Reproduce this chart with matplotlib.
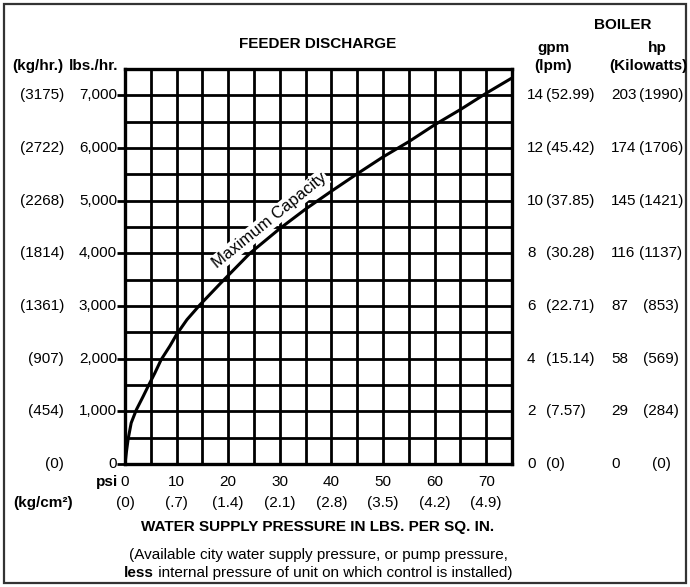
import matplotlib
matplotlib.use("Agg")
import matplotlib.pyplot as plt
import matplotlib.transforms as mtransforms
from matplotlib.patches import Rectangle
import numpy as np

plt.rcParams['font.family'] = ['Liberation Sans', 'DejaVu Sans']

# Maximum capacity curve (psi -> lbs./hr.)
psi = [0, 0.3, 0.6, 1.2, 2.2, 3.5, 4.5, 5.8, 7.0, 8.7, 10, 12, 14.5, 18.4, 24.2,
       30, 35, 40, 45, 50, 55, 60, 65, 70, 75]
lbs_hr = [0, 250, 470, 780, 1030, 1280, 1480, 1730, 1980, 2240, 2460, 2740, 3020,
          3420, 4000, 4470, 4840, 5180, 5510, 5830, 6120, 6440, 6730, 7040, 7330]

# left axis labels
lbs_ticks = [0, 1000, 2000, 3000, 4000, 5000, 6000, 7000]
lbs_labels = ['0', '1,000', '2,000', '3,000', '4,000', '5,000', '6,000', '7,000']
kg_hr_labels = ['(0)', '(454)', '(907)', '(1361)', '(1814)', '(2268)', '(2722)', '(3175)']

# right axis labels (boiler)
gpm_labels = ['0', '2', '4', '6', '8', '10', '12', '14']
lpm_labels = ['(0)', '(7.57)', '(15.14)', '(22.71)', '(30.28)', '(37.85)', '(45.42)', '(52.99)']
hp_labels = ['0', '29', '58', '87', '116', '145', '174', '203']
kw_labels = ['(0)', '(284)', '(569)', '(853)', '(1137)', '(1421)', '(1706)', '(1990)']

# bottom axis labels
psi_ticks = [0, 10, 20, 30, 40, 50, 60, 70]
kg_cm2_labels = ['(0)', '(.7)', '(1.4)', '(2.1)', '(2.8)', '(3.5)', '(4.2)', '(4.9)']

W, H = 690, 587
fig = plt.figure(figsize=(W / 100, H / 100), dpi=100)
ax = fig.add_axes([125 / W, 1 - 464 / H, 387 / W, 395 / H])

ax.set_xlim(0, 75)
ax.set_ylim(0, 7500)
ax.set_xticks(psi_ticks)
ax.set_xticks(np.arange(0, 76, 5), minor=True)
ax.set_yticks(lbs_ticks)
ax.set_yticks(np.arange(0, 7501, 500), minor=True)
ax.set_xticklabels([])
ax.set_yticklabels([])
ax.tick_params(axis='x', which='both', length=0)
ax.tick_params(axis='y', which='major', length=6, width=2, color='black')
ax.tick_params(axis='y', which='minor', length=0)
ax.grid(True, which='both', color='black', linewidth=2.0)
ax.set_axisbelow(True)
for s in ax.spines.values():
    s.set_linewidth(2.4)

ax.plot(psi, lbs_hr, color='black', linewidth=2.2, zorder=5)
ax.text(28.0, 4620, 'Maximum Capacity', rotation=39, ha='center', va='center',
        fontsize=12, zorder=4,
        bbox=dict(facecolor='white', edgecolor='none', pad=1.0))

fs = 11
trans_left = mtransforms.blended_transform_factory(fig.transFigure, ax.transData)
for y, lb, kg in zip(lbs_ticks, lbs_labels, kg_hr_labels):
    ax.text(117 / W, y, lb, transform=trans_left, ha='right', va='center', fontsize=fs)
    ax.text(64 / W, y, kg, transform=trans_left, ha='right', va='center', fontsize=fs)

for y, g, l, h, k in zip(lbs_ticks, gpm_labels, lpm_labels, hp_labels, kw_labels):
    ax.text(527 / W, y, g, transform=trans_left, ha='left', va='center', fontsize=fs)
    ax.text(546 / W, y, l, transform=trans_left, ha='left', va='center', fontsize=fs)
    ax.text(611 / W, y, h, transform=trans_left, ha='left', va='center', fontsize=fs)
    ax.text(661 / W, y, k, transform=trans_left, ha='center', va='center', fontsize=fs)

trans_bot = mtransforms.blended_transform_factory(ax.transData, fig.transFigure)
for x, kg in zip(psi_ticks, kg_cm2_labels):
    ax.text(x, 1 - 482 / H, str(x), transform=trans_bot, ha='center', va='center', fontsize=fs)
    ax.text(x, 1 - 503 / H, kg, transform=trans_bot, ha='center', va='center', fontsize=fs)

fig.text(118 / W, 1 - 482 / H, 'psi', ha='right', va='center', fontsize=fs, fontweight='bold')
fig.text(13 / W, 1 - 503 / H, '(kg/cm²)', ha='left', va='center', fontsize=fs, fontweight='bold')
fig.text(318 / W, 1 - 527 / H, 'WATER SUPPLY PRESSURE IN LBS. PER SQ. IN.',
         ha='center', va='center', fontsize=fs, fontweight='bold')
fig.text(318 / W, 1 - 555 / H, '(Available city water supply pressure, or pump pressure,',
         ha='center', va='center', fontsize=fs)

# second note line: bold "less" followed by regular text, centred as one line
t_less = fig.text(0, 1 - 573 / H, 'less', ha='left', va='center', fontsize=fs, fontweight='bold')
t_rest = fig.text(0, 1 - 573 / H, ' internal pressure of unit on which control is installed)',
                  ha='left', va='center', fontsize=fs)
fig.canvas.draw()
r = fig.canvas.get_renderer()
w1 = t_less.get_window_extent(r).width
w2 = t_rest.get_window_extent(r).width
x0 = 318 - (w1 + w2) / 2
t_less.set_x(x0 / W)
t_rest.set_x((x0 + w1) / W)

fig.text(318 / W, 1 - 44 / H, 'FEEDER DISCHARGE', ha='center', va='center',
         fontsize=fs, fontweight='bold')
fig.text(12 / W, 1 - 66 / H, '(kg/hr.)', ha='left', va='center', fontsize=fs, fontweight='bold')
fig.text(118 / W, 1 - 66 / H, 'lbs./hr.', ha='right', va='center', fontsize=fs, fontweight='bold')
fig.text(623 / W, 1 - 25 / H, 'BOILER', ha='center', va='center', fontsize=fs, fontweight='bold')
fig.text(553 / W, 1 - 48 / H, 'gpm', ha='center', va='center', fontsize=fs, fontweight='bold')
fig.text(553 / W, 1 - 66 / H, '(lpm)', ha='center', va='center', fontsize=fs, fontweight='bold')
fig.text(657 / W, 1 - 48 / H, 'hp', ha='center', va='center', fontsize=fs, fontweight='bold')
fig.text(648 / W, 1 - 66 / H, '(Kilowatts)', ha='center', va='center', fontsize=fs, fontweight='bold')

fig.patches.append(Rectangle((4 / W, 4 / H), 682 / W, 579 / H, transform=fig.transFigure,
                             fill=False, edgecolor='#333333', linewidth=1.6))

fig.savefig('out.png', dpi=100)
